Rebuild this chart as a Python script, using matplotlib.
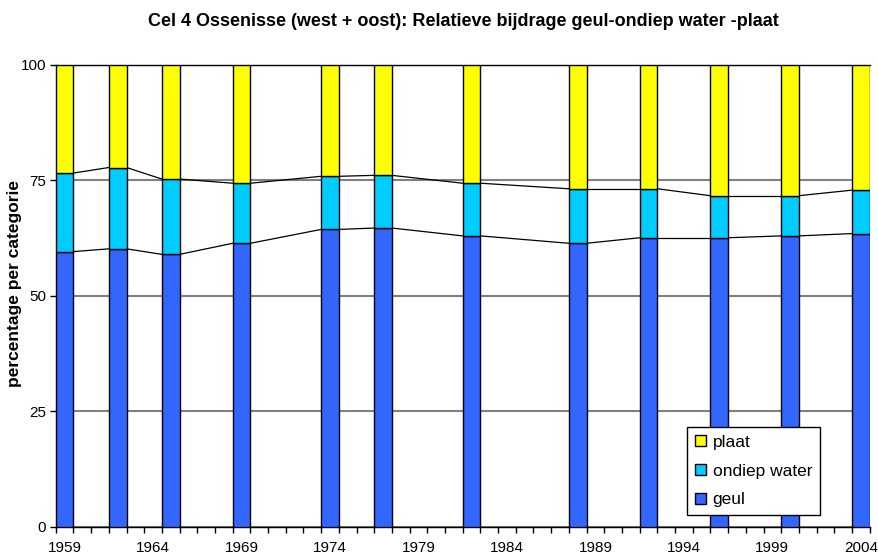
import matplotlib
matplotlib.use("Agg")
import matplotlib.pyplot as plt
import numpy as np

plt.rcParams['font.family'] = ['Liberation Sans', 'DejaVu Sans']

years = [1959, 1962, 1965, 1969, 1974, 1977, 1982, 1988, 1992, 1996, 2000, 2004]
geul = [59.6, 60.2, 59.0, 61.4, 64.4, 64.7, 63.0, 61.4, 62.6, 62.6, 63.0, 63.5]
ondiep_water = [17.0, 17.6, 16.3, 13.0, 11.5, 11.4, 11.4, 11.8, 10.6, 9.1, 8.7, 9.4]
plaat = [100 - g - o for g, o in zip(geul, ondiep_water)]

series_names = ["geul", "ondiep water", "plaat"]
series_colors = ["#3366FF", "#00CCFF", "#FFFF00"]

title = "Cel 4 Ossenisse (west + oost): Relatieve bijdrage geul-ondiep water -plaat"
ylabel = "percentage per categorie"
yticks = [0, 25, 50, 75, 100]
xlabel_years = list(range(1959, 2005, 5))

fig = plt.figure(figsize=(8.79, 5.56), dpi=100)
ax = fig.add_axes([0.0634, 0.0522, 0.926, 0.831])

x = np.array(years, dtype=float)
data = [np.array(geul), np.array(ondiep_water), np.array(plaat)]
bottom = np.zeros(len(years))
handles = []
for vals, name, col in zip(data, series_names, series_colors):
    h = ax.bar(x, vals, width=1.0, bottom=bottom, color=col, edgecolor="black",
               linewidth=1.0, label=name, zorder=3)
    handles.append(h)
    bottom = bottom + vals

# series lines joining the segment tops of neighbouring bars
cum = np.cumsum(np.vstack(data), axis=0)
for level in cum[:2]:
    for i in range(len(years) - 1):
        ax.plot([x[i] + 0.5, x[i + 1] - 0.5], [level[i], level[i + 1]],
                color="black", linewidth=0.9, zorder=2)

ax.set_xlim(years[0] - 0.5, years[-1] + 0.5)
ax.set_ylim(0, 100)

ax.set_yticks(yticks)
ax.set_yticklabels([str(v) for v in yticks], fontsize=11)
ax.yaxis.grid(True, color="#808080", linewidth=1.5, zorder=0)
ax.set_axisbelow(True)

ax.set_xticks(xlabel_years)
ax.set_xticklabels([str(v) for v in xlabel_years], fontsize=11)
ax.tick_params(axis="x", which="major", length=0, pad=10)
ax.set_xticks(np.arange(years[0] - 0.5, years[-1] + 1.0, 1.0), minor=True)
ax.tick_params(axis="x", which="minor", length=4, width=1, direction="out")
ax.tick_params(axis="y", length=4, width=1, direction="out", pad=3)

for side in ["left", "bottom", "top"]:
    ax.spines[side].set_color("black")
    ax.spines[side].set_linewidth(1.0)
ax.spines["right"].set_visible(False)

fig.text(0.017, 0.491, ylabel, rotation=90, ha="center", va="center",
         fontsize=12.5, fontweight="bold")
fig.text(0.527, 0.962, title, ha="center", va="center", fontsize=13, fontweight="bold")

leg = ax.legend(handles[::-1], [series_names[2], series_names[1], series_names[0]],
                loc="lower left", bbox_to_anchor=(0.776, 0.026), fontsize=12.5,
                frameon=True, fancybox=False, framealpha=1, edgecolor="black",
                handlelength=0.6, handleheight=0.6, handletextpad=0.4,
                labelspacing=0.78, borderpad=0.45, borderaxespad=0)
leg.get_frame().set_linewidth(1.0)
leg.set_zorder(5)

fig.savefig("out.png", dpi=100)
